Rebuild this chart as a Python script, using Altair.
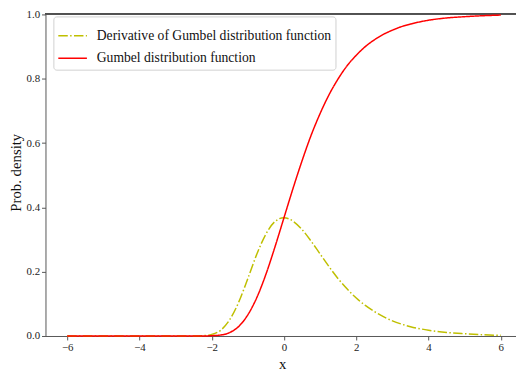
import altair as alt
import pandas as pd

x_vals = [-6, -5, -4, -3, -2.5, -2.25, -2, -1.75, -1.5, -1.25, -1, -0.75, -0.5, -0.25, 0,
          0.25, 0.5, 0.75, 1, 1.25, 1.5, 1.75, 2, 2.25, 2.5, 2.75, 3, 3.25, 3.5, 4, 4.5, 5, 5.5, 6]
pdf_vals = [0, 0, 0, 0, 0, 0.001, 0.005, 0.018, 0.051, 0.106, 0.179, 0.255, 0.317, 0.356, 0.368,
            0.357, 0.331, 0.295, 0.255, 0.215, 0.178, 0.146, 0.118, 0.095, 0.076, 0.060, 0.047,
            0.037, 0.029, 0.018, 0.011, 0.007, 0.004, 0.002]
cdf_vals = [0, 0, 0, 0, 0, 0, 0.001, 0.003, 0.011, 0.030, 0.066, 0.120, 0.192, 0.277, 0.368,
            0.459, 0.545, 0.624, 0.692, 0.751, 0.800, 0.841, 0.873, 0.900, 0.921, 0.938, 0.951,
            0.962, 0.970, 0.982, 0.989, 0.993, 0.996, 0.998]
series_names = ["Derivative of Gumbel distribution function", "Gumbel distribution function"]
x_ticks = [-6, -4, -2, 0, 2, 4, 6]
y_ticks = [0.0, 0.2, 0.4, 0.6, 0.8, 1.0]

rows = []
for name, vals in zip(series_names, [pdf_vals, cdf_vals]):
    for xv, yv in zip(x_vals, vals):
        rows.append({"x": xv, "y": yv, "series": name})
df = pd.DataFrame(rows)

FONT = "Liberation Serif"
AXIS_COLOR = "#555555"

legend = alt.Legend(title=None, orient="none", legendX=8, legendY=2)

top_rule = alt.Chart(df).mark_rule(color=AXIS_COLOR, strokeWidth=1).encode(
    y=alt.datum(1)
)

lines = alt.Chart(df).mark_line(strokeWidth=1.5, interpolate="monotone").encode(
    x=alt.X("x:Q", scale=alt.Scale(domain=[-6.6, 6.42], nice=False, zero=False),
            axis=alt.Axis(values=x_ticks, format="d", title="x",
                          titleX=240, titleY=33, titleBaseline="alphabetic")),
    y=alt.Y("y:Q", scale=alt.Scale(domain=[0, 1], nice=False),
            axis=alt.Axis(values=y_ticks, format=".1f", title="Prob. density",
                          titleX=-30, titleY=160, titleAngle=270,
                          titleBaseline="middle", titleAlign="center")),
    color=alt.Color("series:N",
                    scale=alt.Scale(domain=series_names, range=["#bfbf00", "#ff0000"]),
                    legend=legend),
    strokeDash=alt.StrokeDash("series:N",
                              scale=alt.Scale(domain=series_names,
                                              range=[[9.6, 2.4, 1.5, 2.4], [1, 0]]),
                              legend=legend),
)

chart = alt.layer(top_rule, lines).properties(
    width=477, height=326,
    padding={"left": 38, "top": 4, "right": 0, "bottom": 36},
    autosize=alt.AutoSizeParams(type="none"),
).configure(font=FONT).configure_view(strokeWidth=0).configure_axis(
    grid=False,
    domainColor=AXIS_COLOR, domainWidth=1,
    tickColor=AXIS_COLOR, tickSize=4, tickWidth=1,
    labelFont=FONT, labelFontSize=11, labelColor="#222222", labelPadding=2,
    titleFont=FONT, titleFontSize=15, titleFontWeight="normal", titleColor="#111111",
).configure_legend(
    fillColor="white", strokeColor="#d0d0d0", cornerRadius=3, padding=4,
    labelFont=FONT, labelFontSize=13.8, labelColor="#111111", labelOffset=9,
    symbolType="stroke", symbolSize=841, symbolStrokeWidth=1.5, rowPadding=0,
    labelLimit=400,
)

chart.save("out.html", embed_options={"renderer": "svg", "actions": False})
